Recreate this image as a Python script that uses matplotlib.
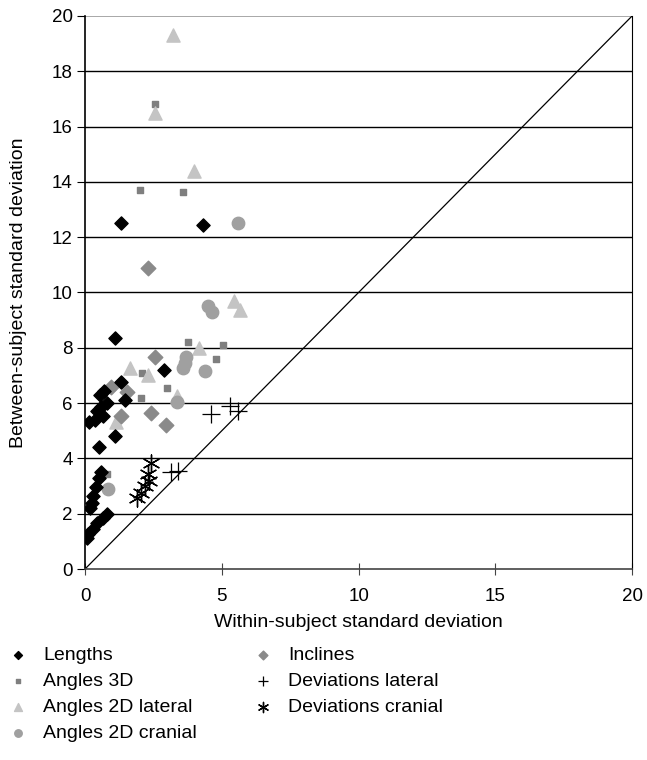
import numpy as np
import matplotlib.pyplot as plt

plt.rcParams['font.family'] = ['Liberation Sans', 'DejaVu Sans']

# data (within-subject SD, between-subject SD)
lengths_x = [1.3, 4.3, 1.1, 2.9, 1.3, 0.7, 0.55, 1.45, 0.8, 0.6, 0.45, 0.35, 0.65, 0.15, 1.1, 0.5,
             0.6, 0.5, 0.4, 0.3, 0.25, 0.18, 0.8, 0.65, 0.45, 0.28, 0.12, 0.07]
lengths_y = [12.5, 12.45, 8.35, 7.2, 6.75, 6.45, 6.3, 6.1, 6.0, 5.85, 5.7, 5.4, 5.55, 5.3, 4.8, 4.4,
             3.5, 3.3, 2.95, 2.65, 2.4, 2.2, 2.0, 1.85, 1.65, 1.45, 1.28, 1.12]

angles3d_x = [2.55, 2.0, 3.6, 3.75, 5.05, 4.8, 2.1, 3.0, 2.05, 1.0, 0.8]
angles3d_y = [16.8, 13.7, 13.65, 8.2, 8.1, 7.6, 7.1, 6.55, 6.2, 6.6, 3.45]

lat2d_x = [3.2, 2.55, 4.0, 5.45, 5.65, 4.15, 1.65, 2.3, 3.35, 1.15]
lat2d_y = [19.3, 16.5, 14.4, 9.7, 9.35, 8.0, 7.27, 7.0, 6.25, 5.3]

cran2d_x = [5.6, 4.5, 4.65, 3.7, 3.65, 3.6, 4.4, 3.35, 0.85]
cran2d_y = [12.5, 9.5, 9.3, 7.65, 7.45, 7.27, 7.15, 6.05, 2.9]

incl_x = [2.3, 2.55, 1.55, 1.3, 2.4, 2.95, 0.95]
incl_y = [10.9, 7.65, 6.4, 5.55, 5.65, 5.2, 6.6]

devlat_x = [4.6, 5.3, 5.6, 3.15, 3.4]
devlat_y = [5.6, 5.9, 5.7, 3.5, 3.55]

devcran_x = [2.4, 2.3, 2.35, 2.2, 2.05, 1.9]
devcran_y = [3.85, 3.45, 3.2, 3.0, 2.75, 2.55]

fig = plt.figure(figsize=(6.47, 7.6), dpi=100)
ax = fig.add_axes([0.1314, 0.2513, 0.8456, 0.7277])

ax.set_xlim(0, 20)
ax.set_ylim(0, 20)
ax.set_xticks([0, 5, 10, 15, 20])
ax.set_yticks(np.arange(0, 21, 2))
for y in np.arange(2, 20, 2):
    ax.axhline(y, color='black', lw=1.0, zorder=1)
ax.axhline(20, color='#999999', lw=1.2, zorder=1)
ax.plot([0, 20], [0, 20], color='black', lw=0.9, zorder=2)

ax.scatter(lengths_x, lengths_y, marker='D', s=45, color='black', label='Lengths', zorder=4)
ax.scatter(angles3d_x, angles3d_y, marker='s', s=22, color='#7f7f7f', label='Angles 3D', zorder=3)
ax.scatter(lat2d_x, lat2d_y, marker='^', s=90, color='#c4c4c4', label='Angles 2D lateral', zorder=3)
ax.scatter(cran2d_x, cran2d_y, marker='o', s=80, color='#a0a0a0', label='Angles 2D cranial', zorder=3)
ax.scatter(incl_x, incl_y, marker='D', s=55, color='#8a8a8a', label='Inclines', zorder=3)
ax.scatter(devlat_x, devlat_y, marker='+', s=150, color='black', linewidths=0.9,
           label='Deviations lateral', zorder=5)
ax.scatter(devcran_x, devcran_y, marker=(6, 2, 0), s=150, color='black', linewidths=1.0,
           label='Deviations cranial', zorder=5)

ax.spines['top'].set_visible(False)
ax.spines['right'].set_color('black')
ax.spines['left'].set_linewidth(1.2)
ax.spines['bottom'].set_linewidth(1.2)
ax.spines['bottom'].set_color('#444444')
ax.tick_params(axis='y', direction='out', length=6, labelsize=13.5, pad=3)
ax.tick_params(axis='x', direction='inout', length=8, labelsize=13.5, pad=10, color='#444444')

ax.set_xlabel('Within-subject standard deviation', fontsize=14, labelpad=6)
ax.set_ylabel('Between-subject standard deviation', fontsize=14, labelpad=18)

h, l = ax.get_legend_handles_labels()
leg = fig.legend(h, l, loc='upper left', bbox_to_anchor=(0.0128, 0.149), ncol=2,
                 frameon=False, fontsize=14, handlelength=1.0, handletextpad=0.8,
                 columnspacing=2.9, labelspacing=0.42, borderpad=0, borderaxespad=0,
                 markerscale=0.6, scatterpoints=1)

fig.savefig('out.png', dpi=100)
